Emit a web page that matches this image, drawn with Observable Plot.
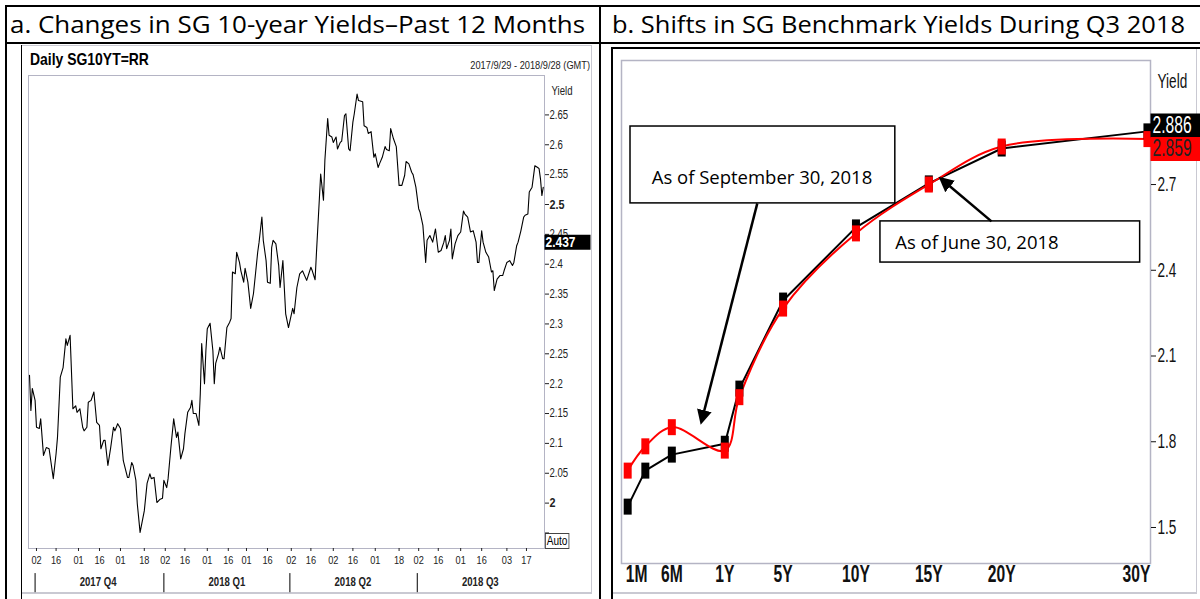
<!DOCTYPE html>
<html><head><meta charset="utf-8">
<script src="https://cdn.jsdelivr.net/npm/d3@7"></script>
<script src="https://cdn.jsdelivr.net/npm/@observablehq/plot@0.6"></script>
<style>
body{margin:0;background:#fff;}
#page{position:relative;width:1200px;height:599px;overflow:hidden;background:#fff;}
.blk{position:absolute;background:#000;}
.gry{position:absolute;background:#c9c9d2;}
.abs{position:absolute;}
#left{position:absolute;left:22px;top:45px;}
#right{position:absolute;left:612px;top:47px;}
.narrow{font-family:"Liberation Sans",Arial,sans-serif;white-space:nowrap;}
</style></head>
<body><div id="page">
<svg class="abs" style="left:0;top:0" width="1200" height="44">
  <text x="10" y="33" font-family="Open Sans, Lato, sans-serif" font-size="24" textLength="575" lengthAdjust="spacingAndGlyphs">a. Changes in SG 10-year Yields–Past 12 Months</text>
  <text x="612" y="33" font-family="Open Sans, Lato, sans-serif" font-size="24" textLength="573" lengthAdjust="spacingAndGlyphs">b. Shifts in SG Benchmark Yields During Q3 2018</text>
</svg>
<div class="blk" style="left:5px;top:5px;width:1195px;height:2px"></div>
<div class="blk" style="left:5px;top:42px;width:1195px;height:2px"></div>
<div class="blk" style="left:5px;top:5px;width:2px;height:594px"></div>
<div class="blk" style="left:599px;top:5px;width:2px;height:594px"></div>
<div class="gry" style="left:22px;top:45px;width:570px;height:1px"></div>
<div class="blk" style="left:21px;top:45px;width:1px;height:554px"></div>
<div class="gry" style="left:591px;top:45px;width:1px;height:548px"></div>
<div class="gry" style="left:22px;top:592px;width:570px;height:2px"></div>
<div class="gry" style="left:613px;top:592px;width:584px;height:2px"></div>
<div class="gry" style="left:1196px;top:49px;width:1px;height:545px"></div>
<div class="abs narrow" style="left:30px;top:50px;font-size:17px;font-weight:bold;transform:scaleX(0.82);transform-origin:left top;">Daily SG10YT=RR</div>
<div class="abs narrow" style="left:390px;top:59px;width:200px;text-align:right;font-size:11px;color:#222;transform:scaleX(0.84);transform-origin:right top;">2017/9/29 - 2018/9/28 (GMT)</div>
<div class="abs narrow" style="left:545px;top:533px;font-size:12px;border:1px solid #444;padding:0 1px;line-height:14px;transform:scaleX(0.84);transform-origin:left top;">Auto</div>
<div class="blk" style="left:611px;top:47px;width:2px;height:552px"></div>
<div class="blk" style="left:611px;top:47px;width:589px;height:2px"></div>
<div id="left"></div>
<div id="right"></div>
</div>
<script>
// ---------------- Panel a: daily SG 10-year yield ----------------
const dates10y = [
"2017-09-27","2017-09-28","2017-09-29","2017-10-01","2017-10-02","2017-10-04","2017-10-05","2017-10-07","2017-10-09","2017-10-11",
"2017-10-14","2017-10-16","2017-10-17","2017-10-19","2017-10-21","2017-10-23","2017-10-24","2017-10-26","2017-10-28","2017-10-30",
"2017-10-31","2017-11-02","2017-11-04","2017-11-05","2017-11-07","2017-11-08","2017-11-10","2017-11-12","2017-11-14","2017-11-16",
"2017-11-17","2017-11-19","2017-11-20","2017-11-22","2017-11-24","2017-11-26","2017-11-27","2017-11-29","2017-12-01","2017-12-03",
"2017-12-06","2017-12-07","2017-12-09","2017-12-10","2017-12-12","2017-12-13","2017-12-15","2017-12-18","2017-12-20","2017-12-22",
"2017-12-23","2017-12-25","2017-12-27","2017-12-29","2017-12-31","2018-01-01","2018-01-03","2018-01-04","2018-01-06","2018-01-08",
"2018-01-10","2018-01-11","2018-01-13","2018-01-15","2018-01-16","2018-01-18","2018-01-20","2018-01-21","2018-01-22","2018-01-24",
"2018-01-26","2018-01-27","2018-01-28","2018-01-30","2018-01-31","2018-02-01","2018-02-03","2018-02-05","2018-02-06","2018-02-07",
"2018-02-09","2018-02-10","2018-02-12","2018-02-13","2018-02-15","2018-02-17","2018-02-18","2018-02-19","2018-02-21","2018-02-22",
"2018-02-24","2018-02-25","2018-02-27","2018-02-28","2018-03-02","2018-03-04","2018-03-06","2018-03-09","2018-03-10","2018-03-12",
"2018-03-13","2018-03-15","2018-03-16","2018-03-18","2018-03-19","2018-03-20","2018-03-22","2018-03-24","2018-03-25","2018-03-27",
"2018-03-29","2018-03-31","2018-04-03","2018-04-04","2018-04-06","2018-04-08","2018-04-10","2018-04-13","2018-04-16","2018-04-17",
"2018-04-19","2018-04-20","2018-04-22","2018-04-23","2018-04-25","2018-04-26","2018-04-28","2018-04-29","2018-05-01","2018-05-02",
"2018-05-04","2018-05-05","2018-05-07","2018-05-08","2018-05-10","2018-05-11","2018-05-13","2018-05-14","2018-05-16","2018-05-17",
"2018-05-19","2018-05-20","2018-05-23","2018-05-24","2018-05-26","2018-05-27","2018-05-29","2018-05-31","2018-06-01","2018-06-03",
"2018-06-04","2018-06-06","2018-06-08","2018-06-09","2018-06-11","2018-06-12","2018-06-14","2018-06-16","2018-06-18","2018-06-20",
"2018-06-22","2018-06-23","2018-06-25","2018-06-27","2018-06-28","2018-06-30","2018-07-02","2018-07-03","2018-07-05","2018-07-07",
"2018-07-08","2018-07-10","2018-07-12","2018-07-14","2018-07-16","2018-07-18","2018-07-20","2018-07-21","2018-07-22","2018-07-24",
"2018-07-25","2018-07-26","2018-07-28","2018-07-30","2018-08-01","2018-08-03","2018-08-04","2018-08-06","2018-08-08","2018-08-10",
"2018-08-12","2018-08-13","2018-08-14","2018-08-16","2018-08-17","2018-08-19","2018-08-21","2018-08-23","2018-08-24","2018-08-25",
"2018-08-27","2018-08-29","2018-08-31","2018-09-01","2018-09-03","2018-09-05","2018-09-07","2018-09-08","2018-09-10","2018-09-11",
"2018-09-13","2018-09-15","2018-09-16","2018-09-18","2018-09-19","2018-09-21","2018-09-23","2018-09-25","2018-09-26","2018-09-27",
"2018-09-28","2018-09-29"];
const yields10y = [
2.214,2.155,2.192,2.172,2.127,2.125,2.141,2.080,2.093,2.091,
2.041,2.083,2.110,2.211,2.227,2.275,2.264,2.281,2.158,2.163,
2.152,2.158,2.127,2.121,2.127,2.169,2.172,2.186,2.135,2.130,
2.091,2.105,2.105,2.063,2.093,2.127,2.121,2.133,2.125,2.071,
2.043,2.043,2.068,2.063,2.038,1.999,1.951,1.987,2.033,2.049,
2.041,2.043,2.001,2.006,2.008,2.038,2.026,2.041,2.093,2.141,
2.110,2.119,2.074,2.091,2.116,2.152,2.160,2.172,2.150,2.150,
2.130,2.183,2.267,2.200,2.255,2.292,2.301,2.255,2.200,2.234,
2.250,2.261,2.242,2.242,2.294,2.303,2.309,2.387,2.384,2.420,
2.403,2.389,2.370,2.393,2.370,2.326,2.351,2.420,2.437,2.479,
2.440,2.406,2.370,2.368,2.428,2.440,2.434,2.398,2.361,2.406,
2.317,2.294,2.326,2.317,2.361,2.384,2.389,2.373,2.395,2.389,
2.374,2.420,2.507,2.551,2.507,2.574,2.644,2.616,2.613,2.604,
2.613,2.593,2.604,2.606,2.649,2.652,2.593,2.590,2.638,2.652,
2.685,2.674,2.672,2.632,2.629,2.619,2.622,2.579,2.585,2.562,
2.568,2.579,2.597,2.592,2.590,2.627,2.610,2.597,2.532,2.532,
2.549,2.572,2.568,2.554,2.550,2.529,2.493,2.487,2.465,2.403,
2.440,2.448,2.437,2.459,2.420,2.423,2.437,2.448,2.426,2.440,
2.459,2.409,2.434,2.448,2.454,2.489,2.484,2.479,2.454,2.456,
2.437,2.403,2.403,2.456,2.437,2.420,2.412,2.387,2.389,2.356,
2.375,2.381,2.381,2.389,2.403,2.406,2.398,2.403,2.431,2.437,
2.456,2.479,2.482,2.484,2.521,2.529,2.565,2.562,2.560,2.543,
2.515,2.529];
const leftTickDates = ["2017-10-02","2017-10-16","2017-11-01","2017-11-16","2017-12-01","2017-12-18",
  "2018-01-02","2018-01-16","2018-02-01","2018-02-16","2018-03-01","2018-03-16",
  "2018-04-02","2018-04-16","2018-05-02","2018-05-16","2018-06-01","2018-06-18",
  "2018-07-02","2018-07-16","2018-08-01","2018-08-16","2018-09-03","2018-09-17"];
const quarterStarts = ["2017-10-01","2018-01-01","2018-04-01","2018-07-01"];
const quarterMids = ["2017-11-15","2018-02-15","2018-05-16","2018-08-15"];
const quarterLabels = ["2017 Q4","2018 Q1","2018 Q2","2018 Q3"];
const leftYTicks = [1.95,2.05,2.1,2.15,2.2,2.25,2.3,2.35,2.4,2.45,2.55,2.6,2.65];
const leftYBoldTicks = [2, 2.5];
const lastTag10y = [2.437];

// ---------------- Panel b: benchmark yield curves ----------------
const tenors = ["1M","3M","6M","1Y","2Y","5Y","10Y","15Y","20Y","30Y"];
const maturities = [1/12, 0.25, 0.5, 1, 2, 5, 10, 15, 20, 30];
const yieldsJun30 = [1.573, 1.699, 1.755, 1.793, 1.986, 2.294, 2.550, 2.704, 2.826, 2.886];
const yieldsSep30 = [1.699, 1.784, 1.851, 1.769, 1.956, 2.266, 2.529, 2.700, 2.833, 2.859];
const tenorAxisLabels = ["1M","6M","1Y","5Y","10Y","15Y","20Y","30Y"];
const rightYTicks = [1.5, 1.8, 2.1, 2.4, 2.7];

const FONT = '"Liberation Sans",Arial,sans-serif';
const parse = d3.utcParse("%Y-%m-%d");
const series10y = dates10y.map((d, i) => ({date: parse(d), y: yields10y[i]}));
const qLabel = new Map(quarterMids.map((d, i) => [+parse(d), quarterLabels[i]]));
const xDomL = [new Date(Date.UTC(2017, 8, 26, 7)), new Date(Date.UTC(2018, 8, 29, 21))];
const yDomL = [1.924, 2.716];
const rectSym = (w, h, x0) => ({draw(ctx) { ctx.rect(x0 === undefined ? -w / 2 : x0, -h / 2, w, h); }});

// horizontally condense chart texts (the source uses a narrow typeface)
function condense(svg, s) {
  svg.querySelectorAll("text").forEach(t => {
    const g = t.closest("g[font-family]");
    if (g && /Open Sans/.test(g.getAttribute("font-family"))) return;
    const x = parseFloat(t.getAttribute("x")) || 0;
    const tr = t.getAttribute("transform") || "";
    t.setAttribute("transform", `${tr} translate(${x},0) scale(${s},1) translate(${-x},0)`);
  });
}

const leftPlot = Plot.plot({
  width: 570, height: 549,
  marginLeft: 6, marginTop: 30, marginRight: 48, marginBottom: 46,
  style: {fontFamily: FONT, fontSize: "11px", color: "#222", background: "transparent", overflow: "visible"},
  x: {type: "utc", domain: xDomL, label: null},
  y: {domain: yDomL, label: null},
  marks: [
    Plot.frame({stroke: "#b4b4c4"}),
    Plot.line(series10y, {x: "date", y: "y", stroke: "#000", strokeWidth: 1.1}),
    Plot.axisY(leftYTicks, {anchor: "right", tickSize: 4, tickPadding: 1, fontSize: 12, label: null,
      tickFormat: v => v === 1.95 ? "" : d3.format(".2~f")(v)}),
    Plot.axisY(leftYBoldTicks, {anchor: "right", tickSize: 4, tickPadding: 1, fontSize: 13.5, fontWeight: "bold", label: null,
      tickFormat: d3.format("~g")}),
    Plot.axisX(leftTickDates.map(parse), {anchor: "bottom", tickSize: 3, tickPadding: 4, fontSize: 11.5, label: null,
      tickFormat: d3.utcFormat("%d")}),
    Plot.ruleX(quarterStarts.map(parse), {y1: 1.882, y2: 1.85, stroke: "#000"}),
    Plot.axisX(quarterMids.map(parse), {anchor: "bottom", tickSize: 0, tickPadding: 29, fontSize: 12, fontWeight: "bold", label: null,
      tickFormat: d => qLabel.get(+d)}),
    Plot.text(["Yield"], {frameAnchor: "top-right", dx: 7, dy: 11, textAnchor: "start", fontSize: 12}),
    Plot.dot(lastTag10y, {x: () => xDomL[1], y: d => d, symbol: rectSym(46, 15, 0), fill: "#000", stroke: null}),
    Plot.text(lastTag10y, {x: () => xDomL[1], y: d => d, text: d => d3.format(".3f")(d), fill: "#fff",
      fontWeight: "bold", textAnchor: "start", dx: 1, fontSize: 15})
  ]
});
condense(leftPlot, 0.8);
document.getElementById("left").appendChild(leftPlot);

const curveJun = maturities.map((m, i) => ({m, y: yieldsJun30[i], tenor: tenors[i]}));
const curveSep = maturities.map((m, i) => ({m, y: yieldsSep30[i], tenor: tenors[i]}));
const tenorPos = new Map(tenors.map((t, i) => [t, maturities[i]]));
const xDomR = [0.025, 1, 30.21];
const yDomR = [1.374, 3.134];
const lastJun = yieldsJun30[yieldsJun30.length - 1];
const lastSep = yieldsSep30[yieldsSep30.length - 1];
const tagSym = rectSym(50, 24, 0);
const midLabels = tenorAxisLabels.filter(t => t !== "1M" && t !== "30Y");
const annFont = "Open Sans, Lato, sans-serif";

const rightPlot = Plot.plot({
  width: 588, height: 552,
  marginLeft: 9, marginTop: 13, marginRight: 50, marginBottom: 36,
  style: {fontFamily: FONT, fontSize: "20px", color: "#111", background: "transparent", overflow: "visible"},
  x: {type: "linear", domain: xDomR, range: [9, 112.3, 538], label: null},
  y: {domain: yDomR, label: null},
  marks: [
    Plot.frame({stroke: "#b4b4c4", strokeWidth: 1.5}),
    Plot.line(curveJun, {x: "m", y: "y", stroke: "#000", strokeWidth: 2}),
    Plot.line(curveSep, {x: "m", y: "y", stroke: "#ff0000", strokeWidth: 2, curve: "catmull-rom"}),
    Plot.dot(curveJun, {x: "m", y: "y", symbol: rectSym(8, 16), fill: "#000", stroke: null}),
    Plot.dot(curveSep, {x: "m", y: "y", symbol: rectSym(8, 16), fill: "#ff0000", stroke: null}),
    Plot.axisY(rightYTicks, {anchor: "right", tickSize: 5, tickPadding: 2, fontSize: 20, label: null, tickFormat: d3.format(".1f")}),
    Plot.axisX(midLabels.map(t => tenorPos.get(t)), {anchor: "bottom", tickSize: 0, tickPadding: 2, fontSize: 23, label: null,
      fontWeight: "bold", tickFormat: v => tenors[maturities.indexOf(v)]}),
    Plot.axisX([tenorPos.get("1M")], {anchor: "bottom", tickSize: 0, tickPadding: 2, fontSize: 23, dx: 9, label: null,
      fontWeight: "bold", tickFormat: () => "1M"}),
    Plot.axisX([tenorPos.get("30Y")], {anchor: "bottom", tickSize: 0, tickPadding: 2, fontSize: 23, dx: -11, label: null,
      fontWeight: "bold", tickFormat: () => "30Y"}),
    Plot.text(["Yield"], {frameAnchor: "top-right", dx: 7, dy: 13, textAnchor: "start", fontSize: 20}),
    Plot.dot([lastJun], {x: () => xDomR[2], y: d => d, dy: -6, symbol: tagSym, fill: "#000", stroke: null}),
    Plot.text([lastJun], {x: () => xDomR[2], y: d => d, dy: -6, dx: 2, text: d => d3.format(".3f")(d), fill: "#fff",
      textAnchor: "start", fontSize: 23}),
    Plot.dot([lastSep], {x: () => xDomR[2], y: d => d, dy: 10, symbol: tagSym, fill: "#ff0000", stroke: null}),
    Plot.text([lastSep], {x: () => xDomR[2], y: d => d, dy: 10, dx: 2, text: d => d3.format(".3f")(d), fill: "#222",
      textAnchor: "start", fontSize: 23}),
    // annotations
    Plot.rect([0], {x1: 0.11, x2: 12.7, y1: 2.634, y2: 2.903, fill: "#fff", stroke: "#000", strokeWidth: 1.5}),
    Plot.text(["As of September 30, 2018"], {x: 3.55, y: 2.721, fontFamily: annFont, fontSize: 18.5, fill: "#000"}),
    Plot.link([0], {x1: 3.23, y1: 2.634, x2: 0.80, y2: 1.90, stroke: "#000", strokeWidth: 2.5}),
    Plot.rect([0], {x1: 11.68, x2: 29.5, y1: 2.427, y2: 2.571, fill: "#fff", stroke: "#000", strokeWidth: 1.5}),
    Plot.text(["As of June 30, 2018"], {x: 18.3, y: 2.494, fontFamily: annFont, fontSize: 18.5, fill: "#000"}),
    Plot.link([0], {x1: 19.3, y1: 2.571, x2: 16.3, y2: 2.70, stroke: "#000", strokeWidth: 2.5})
  ]
});
condense(rightPlot, 0.68);
// filled arrowheads for the annotation pointers
const svgR = d3.select(rightPlot);
svgR.append("defs").append("marker").attr("id", "ah").attr("viewBox", "0 0 10 10").attr("refX", 2).attr("refY", 5)
  .attr("markerWidth", 6).attr("markerHeight", 6).attr("orient", "auto")
  .append("path").attr("d", "M0,0L10,5L0,10z").attr("fill", "#000");
svgR.selectAll('g[aria-label="link"] path').attr("marker-end", "url(#ah)");
document.getElementById("right").appendChild(rightPlot);
</script>
</body></html>
